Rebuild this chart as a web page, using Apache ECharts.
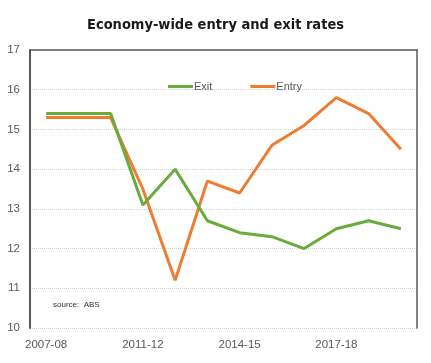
<!DOCTYPE html>
<html>
<head>
<meta charset="utf-8">
<script src="https://cdn.jsdelivr.net/npm/echarts@6/dist/echarts.min.js"></script>
<style>html,body{margin:0;padding:0;background:#fff;}#c{width:431px;height:363px;}</style>
</head>
<body>
<div id="c"></div>
<script>
var categories = ['2007-08','2009-10','2010-11','2011-12','2012-13','2013-14','2014-15','2015-16','2016-17','2017-18','2018-19','2019-20'];
var exitRates = [15.4,15.4,15.4,13.1,14.0,12.7,12.4,12.3,12.0,12.5,12.7,12.5];
var entryRates = [15.3,15.3,15.3,13.5,11.2,13.7,13.4,14.6,15.1,15.8,15.4,14.5];
var yTicks = [10,11,12,13,14,15,16,17];

var chart = echarts.init(document.getElementById('c'));
var labelColor = '#595959';
chart.setOption({
  animation: false,
  title: {
    text: 'Economy-wide entry and exit rates',
    left: 'center', top: 13,
    textStyle: {fontFamily: '"DejaVu Sans Condensed", "Liberation Sans", sans-serif', fontWeight: 'bold', fontSize: 14.5, color: '#1a1a1a'}
  },
  legend: {
    left: 163, top: 76,
    icon: 'rect', itemWidth: 25, itemHeight: 3, itemGap: 38,
    textStyle: {fontFamily: 'Liberation Sans', fontSize: 11, color: labelColor, padding: [0,0,0,-4]},
    data: ['Exit','Entry']
  },
  grid: {left: 30, right: 14, top: 50, bottom: 35},
  xAxis: [{
    type: 'category', data: categories, boundaryGap: true,
    axisLine: {show: false}, axisTick: {show: false},
    axisLabel: {interval: 2, color: labelColor, fontFamily: 'Liberation Sans', fontSize: 11.5, margin: 11}
  }, {
    type: 'category', data: categories, position: 'top',
    axisLine: {show: true, lineStyle: {color: '#595959', width: 1.5}},
    axisTick: {show: false}, axisLabel: {show: false}
  }],
  yAxis: [{
    type: 'value', min: yTicks[0], max: yTicks[yTicks.length-1], interval: 1,
    axisLine: {show: true, lineStyle: {color: '#595959', width: 2}},
    axisTick: {show: false},
    axisLabel: {color: labelColor, fontFamily: 'Liberation Sans', fontSize: 11.5, margin: 10},
    splitLine: {show: true, lineStyle: {color: '#cfcfcf', type: 'dotted', width: 1}}
  }, {
    type: 'value', min: yTicks[0], max: yTicks[yTicks.length-1], interval: 1, position: 'right',
    axisLine: {show: true, lineStyle: {color: '#595959', width: 1.5}},
    axisTick: {show: false}, axisLabel: {show: false}, splitLine: {show: false}
  }],
  graphic: [{
    type: 'text', left: 53, top: 301,
    style: {text: 'source:  ABS', fontFamily: 'Liberation Sans', fontSize: 8, fill: '#333'}
  }],
  series: [{
    name: 'Exit', type: 'line', data: exitRates, showSymbol: false, symbol: 'none',
    lineStyle: {color: '#6aab3c', width: 3}, itemStyle: {color: '#6aab3c'}, z: 3
  }, {
    name: 'Entry', type: 'line', data: entryRates, showSymbol: false, symbol: 'none',
    lineStyle: {color: '#ed7d31', width: 3}, itemStyle: {color: '#ed7d31'}, z: 2
  }]
});
</script>
</body>
</html>
